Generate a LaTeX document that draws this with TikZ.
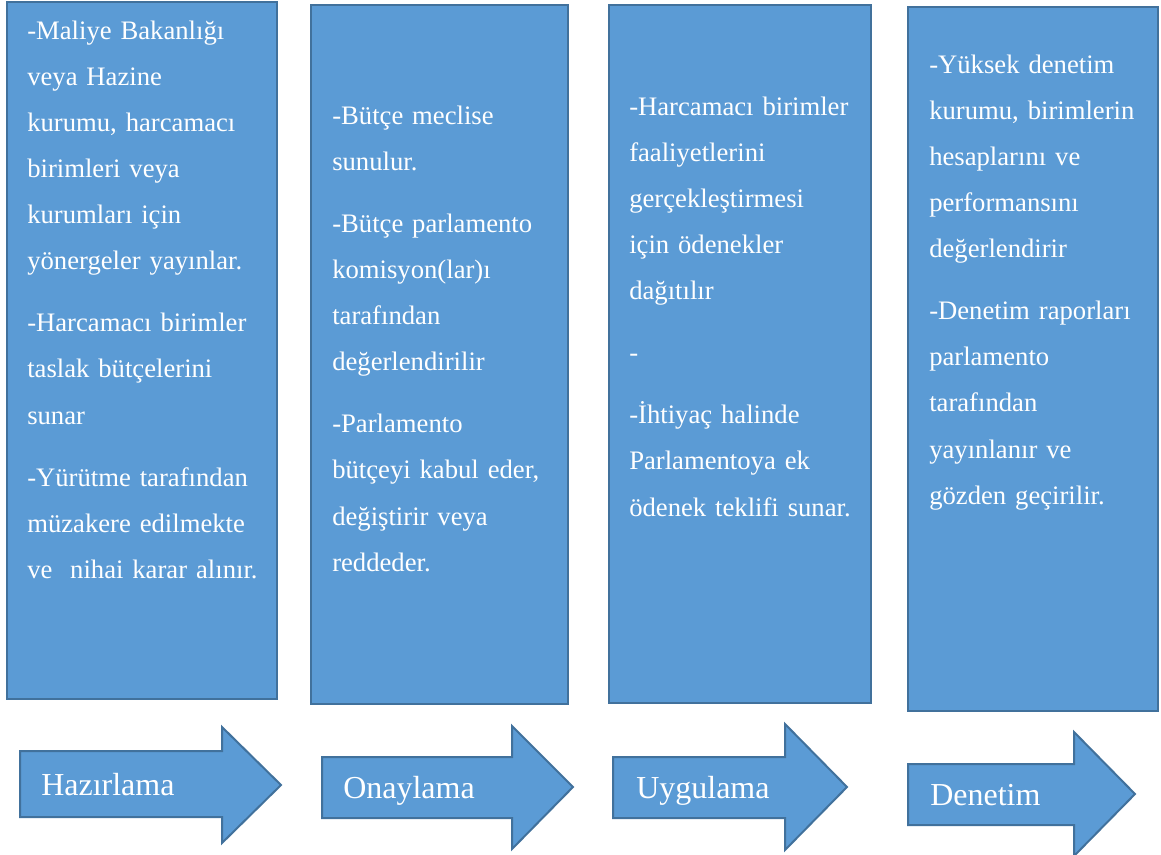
\documentclass[tikz,border=0pt]{standalone}
\usepackage{fontspec}
\setmainfont{Liberation Serif}
\usepackage{tikz}
\usetikzlibrary{calc}
\definecolor{kutumavi}{HTML}{5B9BD5}
\definecolor{kenarmavi}{HTML}{41719C}

\begin{document}
\begin{tikzpicture}[x=0.75pt, y=-0.75pt,
    kutu/.style={fill=kutumavi, draw=kenarmavi, line width=1.5pt, line join=miter},
    metin/.style={text=white, inner sep=0pt, text width=200pt, align=left,
      font=\fontsize{20pt}{34.6pt}\selectfont, anchor=base west},
    etiket/.style={text=white, inner sep=0pt, font=\fontsize{24pt}{28pt}\selectfont, anchor=base west}]
  \useasboundingbox (0,0) rectangle (1161,854);
  % columns
  \draw[kutu] (7,2) rectangle (277,699);
  \draw[kutu] (311,5) rectangle (568,704);
  \draw[kutu] (609,5) rectangle (871,703);
  \draw[kutu] (908,7) rectangle (1158,711);
  % column texts
  \node[metin] (hazmetin) at (27,39) {-Maliye Bakanlığı\\ veya Hazine\\ kurumu, harcamacı\\ birimleri veya\\ kurumları için\\ yönergeler yayınlar.\\[12pt]
    -Harcamacı birimler\\ taslak bütçelerini\\ sunar\\[12pt]
    -Yürütme tarafından\\ müzakere edilmekte\\ ve\ \ nihai karar alınır.};
  \node[metin] (onaymetin) at (332,124) {-Bütçe meclise\\ sunulur.\\[12pt]
    -Bütçe parlamento\\ komisyon(lar)ı\\ tarafından\\ değerlendirilir\\[12pt]
    -Parlamento\\ bütçeyi kabul eder,\\ değiştirir veya\\ reddeder.};
  \node[metin] (uygmetin) at (629,115) {-Harcamacı birimler\\ faaliyetlerini\\ gerçekleştirmesi\\ için ödenekler\\ dağıtılır\\[12pt]
    -\\[12pt]
    -İhtiyaç halinde\\ Parlamentoya ek\\ ödenek teklifi sunar.};
  \node[metin] (denmetin) at (929,73) {-Yüksek denetim\\ kurumu, birimlerin\\ hesaplarını ve\\ performansını\\ değerlendirir\\[12pt]
    -Denetim raporları\\ parlamento\\ tarafından\\ yayınlanır ve\\ gözden geçirilir.};
  % arrows
  \draw[kutu] (20,751) -- (222,751) -- (222,727) -- (281,785) -- (222,843) -- (222,817) -- (20,817) -- cycle;
  \draw[kutu] (322,757) -- (512,757) -- (512,726) -- (573,787) -- (512,849) -- (512,818) -- (322,818) -- cycle;
  \draw[kutu] (613,757) -- (785,757) -- (785,724) -- (847,787) -- (785,850) -- (785,818) -- (613,818) -- cycle;
  \draw[kutu] (908,764) -- (1074,764) -- (1074,732) -- (1135,794) -- (1074,856) -- (1074,825) -- (908,825) -- cycle;
  \node[etiket] (hazirlama) at (41,795) {Hazırlama};
  \node[etiket] (onaylama) at (343,798) {Onaylama};
  \node[etiket] (uygulama) at (636,798) {Uygulama};
  \node[etiket] (denetim) at (930,805) {Denetim};
\end{tikzpicture}
\end{document}
